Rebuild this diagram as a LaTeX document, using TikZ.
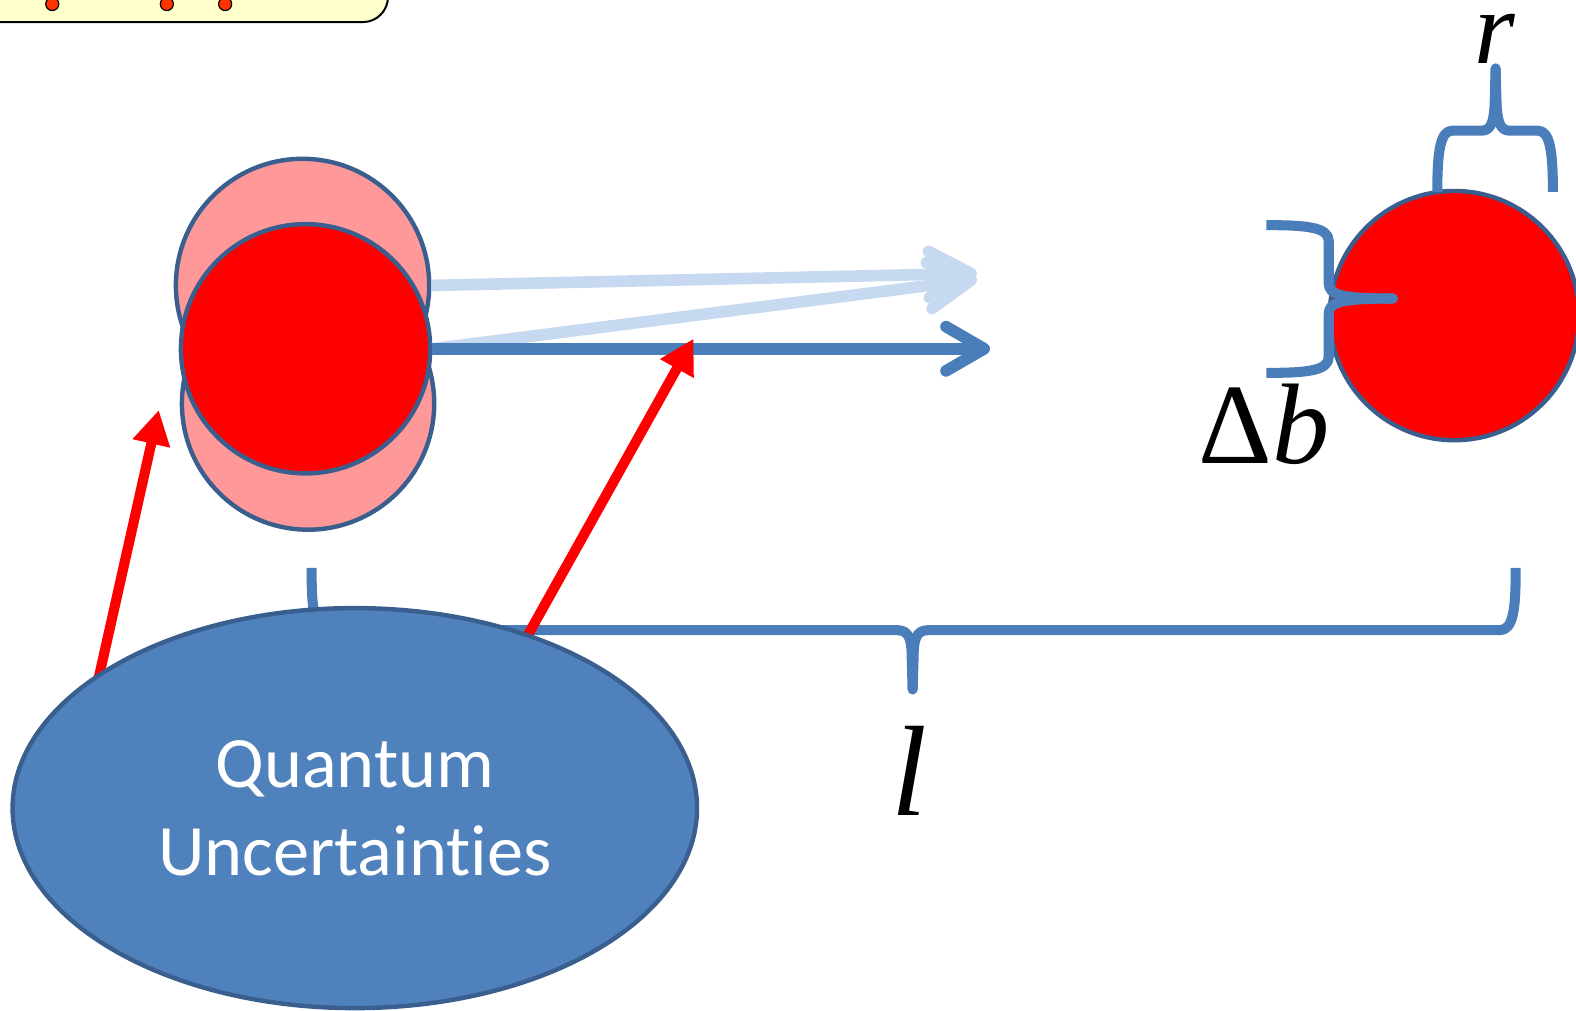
\documentclass[tikz,border=0pt]{standalone}
\usepackage{fontspec}
\setmainfont{Liberation Serif}
\newfontfamily\calib[Ligatures={NoCommon}]{Carlito}
\usetikzlibrary{arrows.meta,shapes.geometric}
\definecolor{ppink}{HTML}{FF9999}
\definecolor{outl}{HTML}{3A5F8E}
\definecolor{ellf}{HTML}{4F81BD}
\definecolor{lineb}{HTML}{4A7EBB}
\definecolor{lightb}{HTML}{C6D9F1}
\definecolor{yell}{HTML}{FFFFCC}
\definecolor{dotr}{HTML}{FF3300}
\begin{document}
\begin{tikzpicture}[x=0.5pt,y=-0.5pt,
  ball/.style={circle,draw=outl,line width=2.2pt,inner sep=0pt},
  ydot/.style={circle,draw=black,line width=0.6pt,fill=dotr,inner sep=0pt,minimum size=6.5pt},
  bracepath/.style={draw=lineb,line width=5pt,line cap=butt,line join=round},
  lightarr/.style={draw=lightb,line width=5.8pt,-{Straight Barb[length=21pt,width=23pt,round]}},
  darkarr/.style={draw=lineb,line width=5.8pt,-{Straight Barb[length=19pt,width=22pt,round]}},
  redarr/.style={draw=red,line width=5pt,-{Triangle[length=17pt,width=18pt]}},
  mathlbl/.style={inner sep=0pt,text=black}]
\useasboundingbox (0,0) rectangle (1568,1005);
\begin{scope}
\clip (0,0) rectangle (1568,1005);
% yellow box (cut off)
\draw[fill=yell,line width=1pt,rounded corners=12.5pt] (-60,-80) rectangle (386,22);
\node[ydot] (d1) at (52,4) {};
\node[ydot] (d2) at (166,4) {};
\node[ydot] (d3) at (224,4) {};
% left balls
\node[ball,fill=ppink,minimum size=126pt] (pu) at (301,284) {};
\node[ball,fill=ppink,minimum size=125.5pt] (pl) at (306.5,401.5) {};
\node[ball,fill=red,minimum size=124pt] (rd) at (304,347) {};
% arrows
\coordinate (t1) at (972,272);
\coordinate (t2) at (972,278);
\coordinate (t3) at (985,347);
\draw[lightarr] (pu.east) -- (t1);
\draw[lightarr] (rd.east) -- (t2);
\draw[darkarr] (rd.east) -- (t3);
% bottom brace l
\coordinate (ltip) at (908,686);
\draw[bracepath] (310,565) .. controls (310,605) and (312,627) .. (326,627) -- (893,627) .. controls (904,627) and (907,636) .. (907,652) -- (ltip);
\draw[bracepath] (1508,565) .. controls (1508,605) and (1506,627) .. (1492,627) -- (923,627) .. controls (912,627) and (909,636) .. (909,652) -- (ltip);
\fill[lineb] (ltip) circle (5);
% red arrows
\coordinate (s1) at (92,702);
\coordinate (h1) at (158,408);
\coordinate (s2) at (515,650);
\coordinate (h2) at (690,337);
\draw[redarr] (s1) -- (h1);
\draw[redarr] (s2) -- (h2);
% ellipse
\node[ellipse,draw=outl,fill=ellf,line width=2.2pt,minimum width=340.5pt,minimum height=199pt,inner sep=0pt,text=white,align=center,font=\calib\fontsize{36}{43.5}\selectfont] (qu) at (353,804) {Quantum\\Uncertainties};
% right ball
\node[ball,fill=red,minimum size=124pt] (rt) at (1447,314) {};
% r brace
\coordinate (rtip) at (1488,68);
\draw[bracepath] (1430,191) .. controls (1430,150) and (1433,130) .. (1445,130) -- (1474,130) .. controls (1483,130) and (1486,122) .. (1487,105) -- (rtip);
\draw[bracepath] (1545,191) .. controls (1545,150) and (1542,130) .. (1530,130) -- (1502,130) .. controls (1493,130) and (1490,122) .. (1489,105) -- (rtip);
\fill[lineb] (rtip) circle (5);
% delta b brace
\coordinate (btip) at (1386,297);
\draw[bracepath] (1260,224) .. controls (1300,224) and (1322,226) .. (1322,240) -- (1322,282) .. controls (1322,293) and (1333,297) .. (btip);
\draw[bracepath] (1260,371) .. controls (1300,371) and (1322,369) .. (1322,355) -- (1322,312) .. controls (1322,301) and (1333,297) .. (btip);
\fill[lineb] (btip) circle (5);
% labels
\node[mathlbl,font=\fontsize{52}{58}\selectfont\itshape] (lr) at (1487,39) {r};
\node[mathlbl,font=\fontsize{57}{64}\selectfont] (lb) at (1258,422) {Δ\textit{b}};
\node[mathlbl,font=\fontsize{64}{70}\selectfont\itshape] (ll) at (905,767) {l};
\end{scope}
\end{tikzpicture}
\end{document}
